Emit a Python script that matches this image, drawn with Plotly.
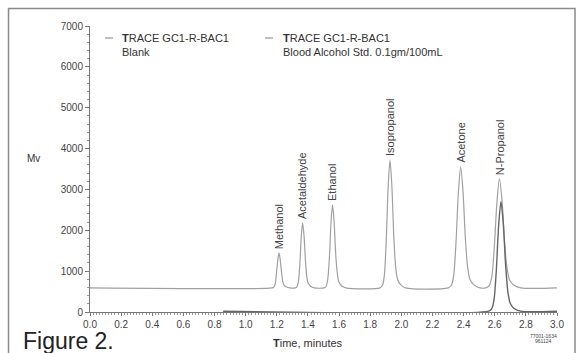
import plotly.graph_objects as go

# ---------------- data ----------------
# Standard trace: Blood Alcohol Std. 0.1gm/100mL (time in minutes, signal in mV)
std_time = [0.000, 1.169, 1.180, 1.189, 1.197, 1.206, 1.214, 1.222, 1.231, 1.239, 1.248, 1.262, 1.284,
            1.318, 1.330, 1.339, 1.348, 1.357, 1.366, 1.375, 1.384, 1.393, 1.402, 1.417, 1.441,
            1.504, 1.517, 1.527, 1.538, 1.548, 1.558, 1.568, 1.578, 1.589, 1.599, 1.616, 1.643,
            1.863, 1.879, 1.891, 1.903, 1.915, 1.927, 1.939, 1.951, 1.963, 1.975, 1.995, 2.027,
            2.301, 2.321, 2.336, 2.351, 2.366, 2.381, 2.396, 2.411, 2.426, 2.441, 2.466, 2.506,
            2.542, 2.564, 2.581, 2.597, 2.614, 2.630, 2.647, 2.663, 2.680, 2.696, 2.724, 2.768,
            3.000]
std_signal = [590, 590, 607, 676, 908, 1261, 1450, 1278, 951, 736, 650, 612, 590,
              590, 622, 749, 1178, 1830, 2180, 1862, 1258, 860, 701, 630, 590,
              590, 631, 793, 1341, 2173, 2620, 2214, 1443, 935, 732, 641, 590,
              590, 653, 903, 1748, 3031, 3720, 3094, 1905, 1122, 809, 668, 590,
              590, 649, 886, 1685, 2899, 3550, 2958, 1833, 1093, 797, 664, 590,
              590, 643, 857, 1578, 2673, 3260, 2726, 1711, 1044, 777, 657, 590,
              590]

# Blank trace
blank_time = [0.855, 2.560, 2.580, 2.595, 2.610, 2.625, 2.640, 2.655, 2.670, 2.685, 2.700, 2.725, 2.765, 3.000]
blank_signal = [20, 20, 74, 288, 1012, 2110, 2700, 2164, 1146, 476, 208, 87, 20, 20]

# Peak labels
peak_names = ["Methanol", "Acetaldehyde", "Ethanol", "Isopropanol", "Acetone", "N-Propanol"]
peak_times = [1.214, 1.366, 1.558, 1.927, 2.381, 2.630]
peak_heights = [1450, 2180, 2620, 3720, 3550, 3260]

x_ticks = [0.0, 0.2, 0.4, 0.6, 0.8, 1.0, 1.2, 1.4, 1.6, 1.8, 2.0, 2.2, 2.4, 2.6, 2.8, 3.0]
y_ticks = [0, 1000, 2000, 3000, 4000, 5000, 6000, 7000]

legend_title = "<b>T</b>RACE GC1-R-BAC1"
legend_names = ["Blank", "Blood Alcohol Std. 0.1gm/100mL"]

# ---------------- layout geometry ----------------
W, H = 584, 353
L, R, T, B = 90, 557, 26, 312  # plot area in pixels


def px(xp):
    return (xp - L) / (R - L)


def py(yp):
    return (B - yp) / (B - T)


FONT = "Liberation Sans, Arial, sans-serif"

fig = go.Figure()
fig.add_trace(go.Scatter(x=std_time, y=std_signal, mode="lines",
                         line=dict(color="#a0a0a0", width=1.2, shape="spline", smoothing=0.8),
                         showlegend=False, hoverinfo="skip"))
fig.add_trace(go.Scatter(x=blank_time, y=blank_signal, mode="lines",
                         line=dict(color="#666666", width=1.4, shape="spline", smoothing=0.8),
                         showlegend=False, hoverinfo="skip"))

annotations = []
for name, t, h in zip(peak_names, peak_times, peak_heights):
    annotations.append(dict(x=t, y=h, xref="x", yref="y", text=name, textangle=-90,
                            showarrow=False, xanchor="center", yanchor="bottom", yshift=3,
                            borderpad=0, font=dict(family=FONT, size=11, color="#444")))

# legend-like text blocks
annotations += [
    dict(x=px(120), y=py(38), xref="paper", yref="paper", text=legend_title, showarrow=False,
         xanchor="left", yanchor="middle", font=dict(family=FONT, size=11, color="#333")),
    dict(x=px(120), y=py(52), xref="paper", yref="paper", text=legend_names[0], showarrow=False,
         xanchor="left", yanchor="middle", font=dict(family=FONT, size=11, color="#333")),
    dict(x=px(281), y=py(38), xref="paper", yref="paper", text=legend_title, showarrow=False,
         xanchor="left", yanchor="middle", font=dict(family=FONT, size=11, color="#333")),
    dict(x=px(281), y=py(52), xref="paper", yref="paper", text=legend_names[1], showarrow=False,
         xanchor="left", yanchor="middle", font=dict(family=FONT, size=11, color="#333")),
    dict(x=px(33), y=py(158), xref="paper", yref="paper", text="Mv", showarrow=False,
         xanchor="center", yanchor="middle", font=dict(family=FONT, size=10, color="rgb(51,51,51)")),
    dict(x=px(308), y=py(343), xref="paper", yref="paper", text="<b>T</b>ime, minutes", showarrow=False,
         xanchor="center", yanchor="middle", font=dict(family=FONT, size=11, color="#333")),
    dict(x=px(21), y=py(341), xref="paper", yref="paper", text="Figure 2.", showarrow=False,
         xanchor="left", yanchor="middle", font=dict(family=FONT, size=23, color="#222")),
    dict(x=px(543), y=py(336), xref="paper", yref="paper", text="77001-1634", showarrow=False,
         xanchor="center", yanchor="middle", font=dict(family=FONT, size=5, color="#444")),
    dict(x=px(543), y=py(341), xref="paper", yref="paper", text="961124", showarrow=False,
         xanchor="center", yanchor="middle", font=dict(family=FONT, size=5, color="#444")),
]

shapes = [
    dict(type="line", xref="paper", yref="paper", x0=px(105), x1=px(113), y0=py(38), y1=py(38),
         line=dict(color="#999", width=1.2)),
    dict(type="line", xref="paper", yref="paper", x0=px(265), x1=px(273), y0=py(38), y1=py(38),
         line=dict(color="#999", width=1.2)),
    dict(type="rect", xref="paper", yref="paper", x0=px(8.5), x1=px(575), y0=py(8.5), y1=py(365),
         line=dict(color="#8a8a8a", width=1.5)),
]

fig.update_layout(
    width=W, height=H,
    margin=dict(l=L, r=W - R, t=T, b=H - B, pad=0),
    paper_bgcolor="white", plot_bgcolor="white",
    annotations=annotations, shapes=shapes,
    showlegend=False,
    xaxis=dict(range=[0, 3.0], tickvals=x_ticks, ticktext=[f"{v:.1f}" for v in x_ticks],
               showgrid=False, zeroline=False, showline=True, linecolor="#777", linewidth=1,
               ticks="outside", ticklen=3, tickcolor="#777",
               minor=dict(dtick=0.02, ticks="outside", ticklen=2, tickcolor="#999"),
               tickfont=dict(family=FONT, size=10, color="#444")),
    yaxis=dict(range=[0, 7000], tickvals=y_ticks, ticktext=[str(v) for v in y_ticks],
               showgrid=False, zeroline=False, showline=True, linecolor="#777", linewidth=1,
               ticks="outside", ticklen=4, tickcolor="#777",
               minor=dict(dtick=200, ticks="outside", ticklen=2, tickcolor="#999"),
               tickfont=dict(family=FONT, size=10, color="#444")),
)

fig.write_html("out.html", config={"displayModeBar": False, "staticPlot": True},
               post_script="document.body.style.margin='0';document.body.style.overflow='hidden';")
